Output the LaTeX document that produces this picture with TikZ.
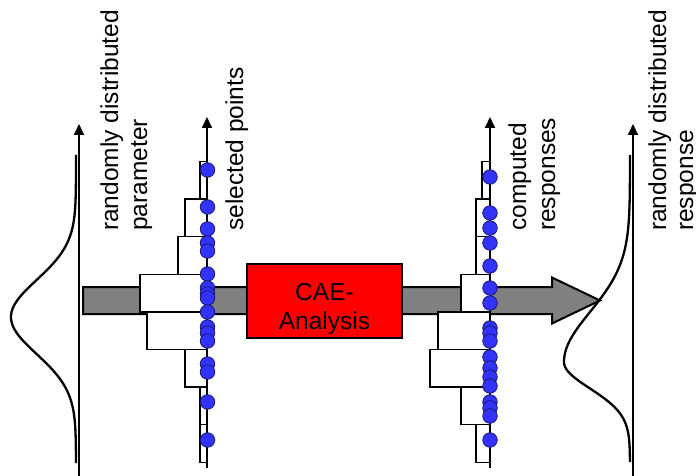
\documentclass[tikz,border=0pt]{standalone}
\usepackage{fontspec}
\setmainfont{Liberation Sans}
\usetikzlibrary{arrows.meta}
\definecolor{flowgray}{RGB}{128,128,128}
\definecolor{dotblue}{RGB}{51,51,255}
\definecolor{dotrim}{RGB}{25,25,110}
\definecolor{boxred}{RGB}{255,0,0}
\begin{document}
\begin{tikzpicture}[x=1pt,y=-1pt,
  axis/.style={line width=2pt,-{Triangle[length=11pt,width=10pt]}},
  density/.style={line width=2.3pt, line join=round},
  bar/.style={draw=black, fill=white, line width=1.5pt},
  sample/.style={circle, draw=dotrim, fill=dotblue, line width=0.8pt,
                 minimum size=14.5pt, inner sep=0pt},
  caption/.style={rotate=90, anchor=base west, inner sep=0pt,
                  font=\fontsize{24.5}{29}\selectfont},
  process/.style={draw=black, fill=boxred, line width=2pt,
                  minimum width=155pt, minimum height=74pt, inner sep=0pt},
  processtext/.style={inner sep=0pt, align=center,
                      font=\fontsize{24.5}{29}\selectfont},
]
\useasboundingbox (0,0) rectangle (696,476);
\fill[white] (0,0) rectangle (696,476);

% axis end points
\coordinate (parBot) at (79,478);  \coordinate (parTop) at (79,124);
\coordinate (selBot) at (207,468); \coordinate (selTop) at (207,117);
\coordinate (resBot) at (490,468); \coordinate (resTop) at (490,117);
\coordinate (outBot) at (633,478); \coordinate (outTop) at (633,124);

% wide flow arrow from the input side to the output distribution
\draw[line width=2pt, fill=flowgray, line join=miter]
  (83,287) -- (552,287) -- (552,277.5) -- (600,300.5) -- (552,323.5)
  -- (552,314) -- (83,314) -- cycle;

% input density
\draw[density] plot[domain=155:463, samples=160, variable=\t]
  ({76-65*exp(-0.5*((\t-317)/37)^2)}, \t);
% output density (skewed)
\draw[density] plot[domain=155:462, samples=200, variable=\t]
  ({630-66*exp(-0.5*((\t-362)/(\t<362 ? 50 : 26.5))^2)}, \t);

% histogram of the selected points
\foreach \l [count=\k from 0] in {200,185,178,140,147,185,200,200}
  \draw[bar] (\l,{161.5+37.6*\k}) rectangle (207,{161.5+37.6*(\k+1)});
% histogram of the computed responses
\foreach \l [count=\k from 0] in {482,476,476,461,438,430,461,476}
  \draw[bar] (\l,{161.5+37.6*\k}) rectangle (490,{161.5+37.6*(\k+1)});

% axes
\draw[axis] (parBot) -- (parTop);
\draw[axis] (selBot) -- (selTop);
\draw[axis] (resBot) -- (resTop);
\draw[axis] (outBot) -- (outTop);

% sample points
\foreach \y [count=\i] in {170,207,229,243,251,274,288,294,298,312,327,333,341,364,372,402,440}
  \node[sample] (s\i) at (207.5,\y) {};
\foreach \y [count=\i] in {177,213,228,243,266,288,303,328,333,341,357,368,377,386,402,408,416,440}
  \node[sample] (r\i) at (490,\y) {};

% analysis block
\node[process] (cae) at (324.5,301) {};
\node[processtext] (caetext) at ([yshift=-8pt]cae.center) {CAE-\\Analysis};

% labels
\node[caption] (parlabA) at (118,231) {randomly distributed};
\node[caption] (parlabB) at (147,231) {parameter};
\node[caption] (sellab)  at (243,231) {selected points};
\node[caption] (reslabA) at (526,231) {computed};
\node[caption] (reslabB) at (555,231) {responses};
\node[caption] (outlabA) at (666,231) {randomly distributed};
\node[caption] (outlabB) at (693,231) {response};
\end{tikzpicture}
\end{document}
